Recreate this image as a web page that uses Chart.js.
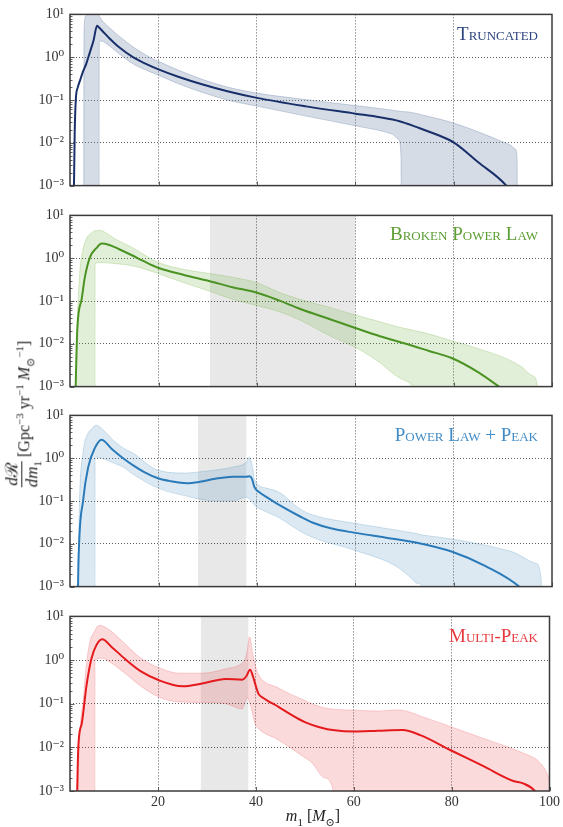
<!DOCTYPE html>
<html><head><meta charset="utf-8">
<script src="https://cdn.jsdelivr.net/npm/chart.js@4.4.1/dist/chart.umd.min.js"></script>
<style>
html,body{margin:0;padding:0;background:#fff;}
#wrap{position:relative;width:563px;height:827px;overflow:hidden;font-family:'Liberation Serif','DejaVu Serif',serif;color:#333;}
canvas{position:absolute;left:0;}
.ptitle{position:absolute;right:25px;font-size:19px;font-variant:small-caps;white-space:nowrap;line-height:22px;z-index:5;}
#ylab{position:absolute;left:25px;top:414px;transform:translate(-50%,-50%) rotate(-90deg);white-space:nowrap;font-size:16px;display:flex;align-items:center;z-index:5;color:#222;}
.frac{display:inline-flex;flex-direction:column;align-items:center;font-size:17px;line-height:17px;}
.frac .num{border-bottom:1px solid #222;padding:0 1px 1px 1px;}
.frac .den{padding-top:1px;}
#xlab{position:absolute;left:313px;top:818px;transform:translate(-50%,-50%);white-space:nowrap;font-size:16px;z-index:5;color:#222;}
sup,sub{font-size:11px;}
</style>
</head>
<body>
<div id="wrap">
<canvas id="c1" width="563" height="200" style="top:0px"></canvas>
<canvas id="c2" width="563" height="200" style="top:201px"></canvas>
<canvas id="c3" width="563" height="200" style="top:401px"></canvas>
<canvas id="c4" width="563" height="225" style="top:602px"></canvas>
<div class="ptitle" style="top:23px;color:#2f4580;">Truncated</div>
<div class="ptitle" style="top:223px;color:#5c9e33;">Broken Power Law</div>
<div class="ptitle" style="top:424px;color:#418cc6;">Power Law + Peak</div>
<div class="ptitle" style="top:625px;color:#e6383d;">Multi-Peak</div>
<div id="ylab"><span class="frac"><span class="num"><i>d</i>ℛ</span><span class="den"><i>dm</i><sub>1</sub></span></span><span>&nbsp;[Gpc<sup>−3</sup> yr<sup>−1</sup> <i>M</i><sub>⊙</sub><sup>−1</sup>]</span></div>
<div id="xlab"><i>m</i><sub>1</sub> [<i>M</i><sub>⊙</sub>]</div>
</div>
<script>
// ---------- tick definitions ----------
const xTicks = [20, 40, 60, 80, 100];
const yTickValues = [0.001, 0.01, 0.1, 1, 10];
const yTickLabels = ['10⁻³', '10⁻²', '10⁻¹', '10⁰', '10¹'];

// ---------- Truncated ----------
const truncX = [2.7, 2.95, 3.2, 3.6, 4.1, 4.6, 5.3, 6.0, 6.8, 7.5, 8.0, 8.5, 10.1, 12, 14.8, 17, 20, 24, 29, 34, 40, 50, 60, 65, 69, 72.4, 76, 80, 85, 90.7, 92];
const truncMedian = [0.0001, 0.016, 0.11, 0.2, 0.3, 0.45, 0.7, 1.26, 2.5, 5.4, 4.8, 4.2, 2.7, 1.7, 1.0, 0.74, 0.52, 0.35, 0.23, 0.16, 0.112, 0.071, 0.048, 0.0395, 0.032, 0.0235, 0.0165, 0.0102, 0.0035, 0.001, 0.0006];
const truncBandX = [2, 4.8, 4.85, 5.2, 5.8, 7.2, 7.9, 7.95, 8.3, 10.1, 12, 14.8, 18.2, 20, 24, 29, 34, 40, 50, 60, 67.5, 68.8, 69.3, 69.4, 75, 80, 85, 88.6, 91.5, 92.5, 92.9, 93.0, 100];
const truncUpper = [1e-5, 1e-5, 4, 9, 11, 11, 9.5, 9.3, 7.8, 4.8, 3.1, 1.75, 1.0, 0.8, 0.5, 0.3, 0.2, 0.145, 0.102, 0.074, 0.058, 0.055, 0.054, 0.054, 0.041, 0.029, 0.018, 0.0123, 0.0089, 0.0072, 0.004, 1e-5, 1e-5];
const truncLower = [1e-5, 1e-5, 1e-5, 1e-5, 1e-5, 1e-5, 1e-5, 2.3, 2.4, 1.8, 1.2, 0.7, 0.46, 0.38, 0.24, 0.15, 0.1, 0.072, 0.042, 0.025, 0.016, 0.012, 0.005, 1e-5, 1e-5, 1e-5, 1e-5, 1e-5, 1e-5, 1e-5, 1e-5, 1e-5, 1e-5];

// ---------- Broken Power Law ----------
const bplX = [2.95, 3.48, 4.37, 5.04, 6.06, 7.4, 8.4, 10, 12, 14.8, 17, 19.9, 25, 30.4, 35, 39.9, 44.6, 48.7, 55, 60, 65, 70.3, 75, 79.7, 85.2, 89.2, 91];
const bplMedian = [0.0001, 0.021, 0.11, 0.37, 1.05, 1.74, 2.2, 2.04, 1.62, 1.14, 0.85, 0.6, 0.41, 0.29, 0.21, 0.158, 0.102, 0.066, 0.037, 0.0234, 0.015, 0.01, 0.0068, 0.0046, 0.0021, 0.001, 0.0007];
const bplBandX = [2, 3.1, 3.5, 4.0, 4.6, 5.4, 6.5, 7.05, 7.1, 8.0, 9.5, 11, 14.8, 19.9, 25, 30.4, 35, 39.9, 44.6, 48.7, 55, 60, 64.9, 68, 70, 71.6, 72.3, 72.6, 79.7, 85.2, 91.3, 94, 96, 97, 97.3, 100];
const bplUpper = [1e-5, 0.001, 0.04, 0.5, 1.5, 2.95, 4.0, 4.4, 4.4, 4.5, 3.8, 2.9, 1.74, 0.8, 0.55, 0.44, 0.36, 0.27, 0.158, 0.11, 0.07, 0.047, 0.033, 0.026, 0.023, 0.021, 0.02, 0.0198, 0.0117, 0.0076, 0.0042, 0.0028, 0.0018, 0.0011, 1e-5, 1e-5];
const bplLower = [1e-5, 1e-5, 1e-5, 1e-5, 1e-5, 1e-5, 1e-5, 1e-5, 0.74, 0.79, 0.78, 0.75, 0.66, 0.44, 0.27, 0.17, 0.11, 0.079, 0.056, 0.036, 0.015, 0.0083, 0.0037, 0.0019, 0.0014, 0.001, 0.0003, 1e-5, 1e-5, 1e-5, 1e-5, 1e-5, 1e-5, 1e-5, 1e-5, 1e-5];
const bplGray = [30.4, 60];

// ---------- Power Law + Peak ----------
const plpX = [3.5, 3.7, 4.7, 5.7, 7.07, 8.4, 10.5, 12.8, 14.85, 17, 19.9, 22.5, 25.7, 28.4, 31.5, 35.1, 37.8, 38.5, 39.0, 39.5, 40.5, 41.9, 44.6, 48.7, 51.4, 55, 60, 66, 72.3, 79.7, 86.5, 93.3, 95];
const plpMedian = [0.0001, 0.003, 0.11, 0.62, 1.74, 2.7, 1.65, 1.0, 0.68, 0.48, 0.34, 0.29, 0.26, 0.28, 0.33, 0.37, 0.37, 0.38, 0.33, 0.21, 0.16, 0.125, 0.08, 0.044, 0.031, 0.023, 0.018, 0.014, 0.0107, 0.0065, 0.003, 0.001, 0.0006];
const plpBandX = [2, 3.6, 3.9, 4.7, 5.5, 6.4, 7.05, 7.1, 7.4, 7.6, 9, 10.5, 12.8, 14.85, 19.9, 25.7, 28.4, 31.5, 35.1, 37.8, 38.5, 39.1, 39.5, 41.9, 44.6, 48.7, 51.4, 60, 68.3, 71.6, 72.5, 73.6, 74, 79.7, 86, 91.9, 96.7, 97.8, 98, 100];
const plpUpper = [1e-5, 0.001, 0.08, 1.5, 3.5, 4.9, 5.7, 5.75, 5.9, 5.8, 4.3, 2.8, 1.74, 1.3, 0.52, 0.45, 0.48, 0.53, 0.62, 0.8, 1.05, 0.62, 0.32, 0.2, 0.158, 0.066, 0.047, 0.03, 0.021, 0.018, 0.0175, 0.016, 0.0158, 0.0129, 0.0095, 0.0065, 0.0035, 0.0015, 1e-5, 1e-5];
const plpLower = [1e-5, 1e-5, 1e-5, 1e-5, 1e-5, 1e-5, 1e-5, 0.95, 1.05, 1.05, 0.95, 0.8, 0.62, 0.42, 0.2, 0.13, 0.11, 0.1, 0.1, 0.123, 0.11, 0.093, 0.08, 0.056, 0.04, 0.02, 0.014, 0.007, 0.003, 0.0015, 0.0012, 0.001, 1e-5, 1e-5, 1e-5, 1e-5, 1e-5, 1e-5, 1e-5, 1e-5];
const plpGray = [28.0, 37.9];

// ---------- Multi-Peak ----------
const mpX = [3.3, 3.7, 4.4, 5.4, 6.4, 7.4, 8.6, 10.5, 13.5, 16.5, 20.3, 25, 29, 33.8, 37.2, 38.0, 38.8, 39.4, 40, 40.5, 41.5, 42.5, 44.6, 47, 50, 53, 56.1, 60, 64.9, 70, 73.6, 79.7, 86.5, 92.6, 94.6, 97, 97.5];
const mpMedian = [0.0001, 0.0105, 0.035, 0.275, 1.1, 2.2, 3.0, 2.0, 1.0, 0.55, 0.34, 0.25, 0.29, 0.37, 0.355, 0.42, 0.6, 0.42, 0.25, 0.17, 0.135, 0.115, 0.085, 0.058, 0.038, 0.029, 0.0245, 0.023, 0.024, 0.025, 0.019, 0.0087, 0.0037, 0.0017, 0.0015, 0.001, 0.0008];
const mpBandX = [2, 3.6, 4.0, 4.7, 5.3, 6.06, 7.05, 7.1, 7.4, 8.1, 8.6, 10.5, 13.5, 16.5, 20.3, 24.3, 29, 33.8, 37.2, 37.7, 38.2, 38.7, 39.3, 39.8, 40.5, 44.6, 50, 51.4, 54, 55.8, 56.2, 60, 64.9, 69, 75, 79.7, 86.5, 94.6, 98, 99.7, 100];
const mpUpper = [1e-5, 0.001, 0.02, 0.12, 0.7, 2.6, 4.6, 4.7, 5.6, 6.2, 6.1, 4.5, 2.2, 1.1, 0.66, 0.5, 0.5, 0.63, 0.85, 1.0, 1.6, 3.4, 1.5, 0.8, 0.47, 0.23, 0.118, 0.1, 0.08, 0.075, 0.074, 0.071, 0.068, 0.072, 0.046, 0.03, 0.016, 0.0074, 0.0045, 0.0022, 0.0016];
const mpLower = [1e-5, 1e-5, 1e-5, 1e-5, 1e-5, 1e-5, 1e-5, 1.0, 1.05, 1.1, 1.1, 0.85, 0.47, 0.25, 0.14, 0.11, 0.107, 0.1, 0.076, 0.1, 0.138, 0.107, 0.06, 0.035, 0.027, 0.0148, 0.0058, 0.0045, 0.002, 0.001, 1e-5, 1e-5, 1e-5, 1e-5, 1e-5, 1e-5, 1e-5, 1e-5, 1e-5, 1e-5, 1e-5];
const mpGray = [28.7, 38.5];

// ---------- drawing ----------
const FONT = "'Liberation Serif', 'DejaVu Serif', serif";
const pts = (xs, ys) => xs.map((x, i) => ({x: x, y: ys[i]}));

const framePlugin = {
  id: 'frame',
  afterDatasetsDraw(chart) {
    const {ctx, chartArea: a, scales} = chart;
    ctx.save();
    ctx.strokeStyle = '#3a3a3a';
    ctx.lineWidth = 0.8;
    ctx.beginPath();
    for (let e = -3; e <= 0; e++) {
      for (let k = 1; k <= 9; k++) {
        const y = Math.round(scales.y.getPixelForValue(k * Math.pow(10, e))) + 0.5;
        const len = k === 1 ? 4.5 : 2.5;
        ctx.moveTo(a.left, y); ctx.lineTo(a.left + len, y);
      }
    }
    for (const v of xTicks) {
      const x = Math.round(scales.x.getPixelForValue(v)) + 0.5;
      ctx.moveTo(x, a.bottom); ctx.lineTo(x, a.bottom - 4);
    }
    ctx.stroke();
    ctx.lineWidth = 1.5;
    ctx.strokeRect(a.left, a.top, a.right - a.left, a.bottom - a.top);
    ctx.restore();
  }
};

function makePanel(id, p) {
  const datasets = [
    {data: pts(p.mx, p.my), borderColor: p.line, borderWidth: 2, pointRadius: 0, fill: false, order: 0, cubicInterpolationMode: 'monotone'},
    {data: pts(p.bx, p.up), borderColor: p.edge, borderWidth: 0.8, backgroundColor: p.band, fill: '+1', pointRadius: 0, order: 1, cubicInterpolationMode: 'monotone'},
    {data: pts(p.bx, p.lo), borderColor: p.edge, borderWidth: 0.8, pointRadius: 0, fill: false, order: 1, cubicInterpolationMode: 'monotone'}
  ];
  if (p.gray) {
    datasets.push({data: [{x: p.gray[0], y: 20}, {x: p.gray[1], y: 20}], borderWidth: 0, pointRadius: 0,
      backgroundColor: 'rgba(0,0,0,0.09)', fill: {value: 1e-4}, order: 3});
  }
  const gridCol = '#5a5a5a';
  new Chart(document.getElementById(id), {
    type: 'line',
    data: {datasets: datasets},
    options: {
      responsive: false, animation: false, devicePixelRatio: 1,
      layout: {padding: 0},
      plugins: {legend: {display: false}, tooltip: {enabled: false}},
      scales: {
        x: {
          type: 'linear', min: 2, max: 100,
          afterBuildTicks: s => { s.ticks = xTicks.map(v => ({value: v})); },
          grid: {color: c => (c.tick && c.tick.value === 100) ? 'rgba(0,0,0,0)' : gridCol, lineWidth: 1, drawTicks: false},
          border: {display: false, dash: [1, 2]},
          ticks: {display: p.showX, padding: 3, autoSkip: false, maxRotation: 0, color: '#333', font: {family: FONT, size: 14}},
          afterFit: s => { s.height = p.bottom; }
        },
        x2: {
          type: 'linear', position: 'top', grid: {display: false}, ticks: {display: false}, border: {display: false},
          afterFit: s => { s.height = 12; }
        },
        y: {
          type: 'logarithmic', min: 0.001, max: 10,
          afterBuildTicks: s => { s.ticks = yTickValues.map(v => ({value: v})); },
          grid: {color: c => (c.tick && (c.tick.value <= 0.0011 || c.tick.value >= 9.9)) ? 'rgba(0,0,0,0)' : gridCol, lineWidth: 1, drawTicks: false},
          border: {display: false, dash: [1, 2]},
          ticks: {
            padding: 6, autoSkip: false, color: '#333', font: {family: FONT, size: 14},
            callback: v => {
              const i = yTickValues.findIndex(t => Math.abs(Math.log10(t) - Math.log10(v)) < 1e-6);
              return i >= 0 ? yTickLabels[i] : '';
            }
          },
          afterFit: s => { s.width = 70; }
        },
        y2: {
          type: 'linear', position: 'right', grid: {display: false}, ticks: {display: false}, border: {display: false},
          afterFit: s => { s.width = 11; }
        }
      }
    },
    plugins: [framePlugin]
  });
}

makePanel('c1', {mx: truncX, my: truncMedian, bx: truncBandX, up: truncUpper, lo: truncLower, gray: null,
  line: '#182f6a', band: 'rgba(120,140,172,0.30)', edge: 'rgba(110,132,170,0.45)', showX: false, bottom: 10});
makePanel('c2', {mx: bplX, my: bplMedian, bx: bplBandX, up: bplUpper, lo: bplLower, gray: bplGray,
  line: '#4a9322', band: 'rgba(120,180,70,0.21)', edge: 'rgba(120,180,70,0.35)', showX: false, bottom: 10});
makePanel('c3', {mx: plpX, my: plpMedian, bx: plpBandX, up: plpUpper, lo: plpLower, gray: plpGray,
  line: '#2a7ab9', band: 'rgba(80,145,190,0.2)', edge: 'rgba(80,145,190,0.32)', showX: false, bottom: 10});
makePanel('c4', {mx: mpX, my: mpMedian, bx: mpBandX, up: mpUpper, lo: mpLower, gray: mpGray,
  line: '#e41a1c', band: 'rgba(235,70,80,0.2)', edge: 'rgba(235,70,80,0.3)', showX: true, bottom: 36});
</script>
</body></html>
